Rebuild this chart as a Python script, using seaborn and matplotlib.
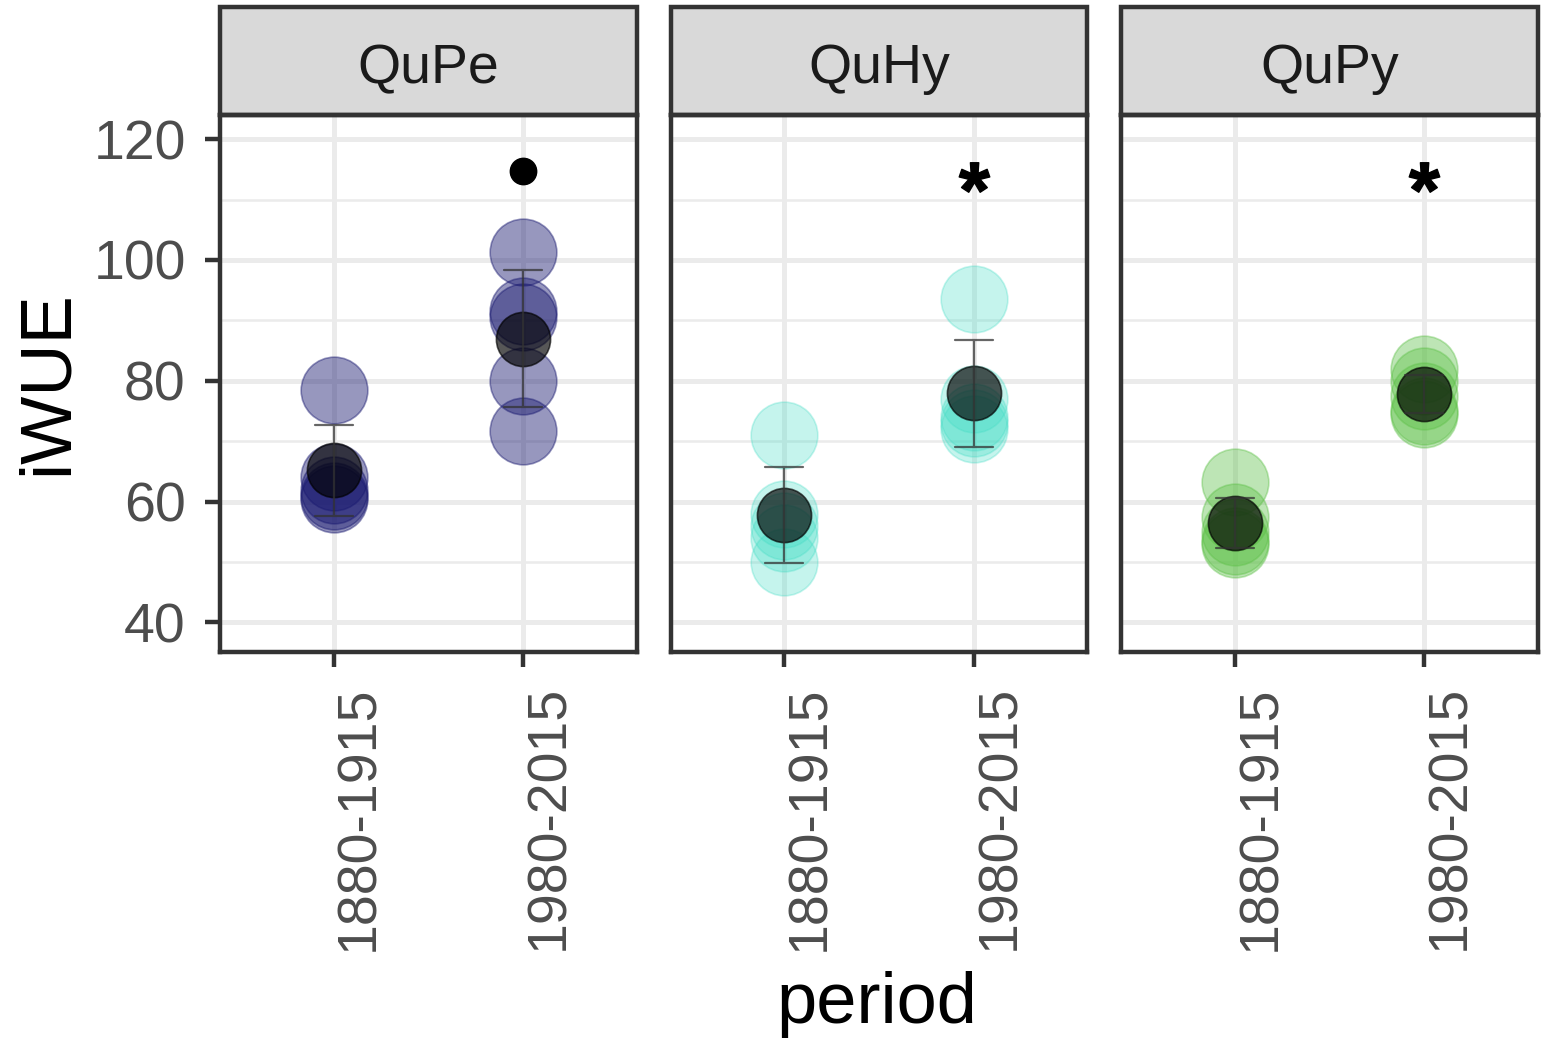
import matplotlib
matplotlib.use("Agg")
import numpy as np
import pandas as pd
import matplotlib.pyplot as plt
from matplotlib.patches import Rectangle
from matplotlib.path import Path
from matplotlib.textpath import TextPath
from matplotlib.font_manager import FontProperties
from matplotlib.ticker import MultipleLocator
import seaborn as sns

# values
species = ["QuPe", "QuHy", "QuPy"]
periods = ["1880-1915", "1980-2015"]

qupe_early = [78.5, 64.0, 62.0, 61.0, 60.5]
qupe_late = [101.3, 91.5, 90.5, 80.0, 71.7]
quhy_early = [71.0, 58.0, 56.0, 54.0, 50.0]
quhy_late = [93.5, 77.0, 74.0, 73.0, 72.0]
qupy_early = [63.2, 57.5, 55.0, 53.5, 53.0]
qupy_late = [82.0, 80.0, 77.5, 75.0, 74.5]

sig_labels = ["•", "*", "*"]
sig_period = ["1980-2015", "1980-2015", "1980-2015"]
sig_y = [114.7, 113.7, 113.7]

point_colors = ["#191970", "#3fdcc4", "#5cc046"]
point_alpha = [0.45, 0.3, 0.4]

rows = []
for sp, early, late in zip(species, [qupe_early, quhy_early, qupy_early],
                           [qupe_late, quhy_late, qupy_late]):
    for v in early:
        rows.append((sp, periods[0], v))
    for v in late:
        rows.append((sp, periods[1], v))
df = pd.DataFrame(rows, columns=["species", "period", "iWUE"])

sns.set_style("white")
plt.rcParams["font.family"] = ["Liberation Sans", "DejaVu Sans"]

# centred asterisk marker (ignore the dummy CLOSEPOLY vertices)
star = TextPath((0, 0), "*", prop=FontProperties(family="Liberation Sans", weight="bold"))
codes = star.codes
verts = star.vertices.copy()
real = codes != Path.CLOSEPOLY
ctr = (verts[real].min(axis=0) + verts[real].max(axis=0)) / 2
verts = verts - ctr
verts[~real] = 0
star_marker = Path(verts, codes)

fig, axes = plt.subplots(1, 3, figsize=(15.52, 10.64), dpi=100, sharey=True)
fig.subplots_adjust(left=0.1418, right=0.991, bottom=0.3872, top=0.8919, wspace=0.0815)

frame_c = "#333333"
strip_h = 0.201

for i, (ax, sp) in enumerate(zip(axes, species)):
    sub = df[df["species"] == sp]

    sns.stripplot(data=sub, x="period", y="iWUE", order=periods, jitter=False,
                  color=point_colors[i], alpha=point_alpha[i], size=48,
                  linewidth=1.2, edgecolor=point_colors[i], ax=ax, zorder=2)
    sns.pointplot(data=sub, x="period", y="iWUE", order=periods, errorbar="sd",
                  color="black", markers="o", linestyle="none", capsize=0.2,
                  markersize=39, markeredgewidth=1.2, alpha=0.66,
                  err_kws={"color": "#333333", "linewidth": 1.6, "alpha": 0.75},
                  ax=ax, zorder=3)

    xs = periods.index(sig_period[i])
    if sig_labels[i] == "•":
        ax.plot([xs], [sig_y[i]], marker="o", markersize=19, color="black",
                linestyle="none", zorder=5)
    else:
        ax.plot([xs], [sig_y[i]], marker=star_marker, markersize=22, color="black",
                linestyle="none", zorder=5)

    ax.set_xlim(-0.6, 1.6)
    ax.set_ylim(35.1, 124.0)
    ax.set_yticks([40, 60, 80, 100, 120])
    ax.yaxis.set_minor_locator(MultipleLocator(10))
    ax.set_xticks(range(len(periods)))
    ax.set_xticklabels(periods, rotation=90, ha="right", va="top",
                       rotation_mode="anchor")

    ax.set_axisbelow(True)
    ax.grid(True, which="major", color="#ebebeb", linewidth=3.6)
    ax.grid(True, which="minor", axis="y", color="#ebebeb", linewidth=1.8)
    ax.xaxis.grid(True, which="major", color="#ebebeb", linewidth=3.6)

    for s in ax.spines.values():
        s.set_color(frame_c)
        s.set_linewidth(3.2)

    ax.tick_params(axis="x", which="major", bottom=True, direction="out", length=10.8,
                   width=3.2, color=frame_c, labelsize=40, labelcolor="#4d4d4d", pad=13)
    ax.tick_params(axis="y", which="major", left=(i == 0), direction="out",
                   length=10.8 if i == 0 else 0, width=3.2, color=frame_c,
                   labelsize=40, labelcolor="#4d4d4d", pad=14)
    ax.tick_params(which="minor", length=0)
    ax.set_xlabel("")
    ax.set_ylabel("")

    ax.add_patch(Rectangle((0, 1), 1, strip_h, transform=ax.transAxes, clip_on=False,
                           facecolor="#d9d9d9", edgecolor=frame_c, linewidth=3.2))
    ax.text(0.5, 1 + strip_h / 2 - 0.015, sp, transform=ax.transAxes, ha="center",
            va="center", fontsize=40, color="#1a1a1a")

fig.text(48 / 1552, 1 - 383 / 1064, "iWUE", rotation=90, ha="center", va="center",
         fontsize=52, color="black")
fig.text(877 / 1552, 1 - 1005 / 1064, "period", ha="center", va="center",
         fontsize=52, color="black")

fig.savefig("out.png", dpi=100)
